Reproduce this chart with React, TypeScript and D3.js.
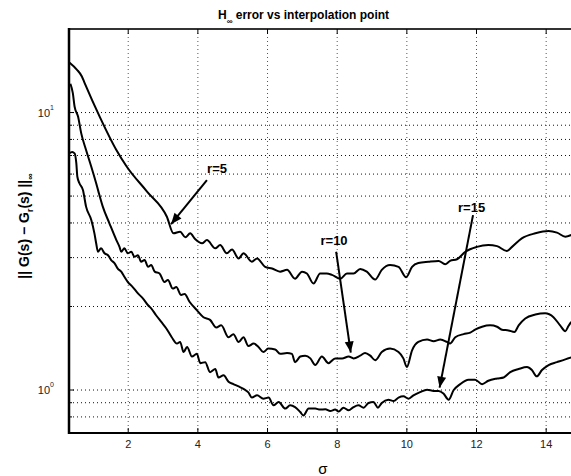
import React from "react";
import * as d3 from "d3";

// values (sigma, H-inf error)
const r5Data: [number, number][] = [
  [0.31, 15.15], [0.53, 14.26], [0.67, 13.49], [0.75, 12.77], [1.18, 9.67], [1.66, 7.33],
  [1.96, 6.38], [2.54, 5.19], [3.11, 4.21], [3.3, 3.67], [3.49, 3.72], [3.64, 3.55],
  [3.78, 3.67], [3.92, 3.5], [4.12, 3.38], [4.26, 3.47], [4.5, 3.24], [4.64, 3.33],
  [4.83, 3.11], [4.98, 3.21], [5.17, 2.98], [5.31, 3.11], [5.55, 2.9], [5.7, 2.98],
  [5.93, 2.78], [6.13, 2.74], [6.36, 2.67], [6.56, 2.71], [6.79, 2.52], [6.99, 2.67],
  [7.13, 2.63], [7.32, 2.42], [7.51, 2.63], [7.7, 2.63], [7.85, 2.6], [8.09, 2.52],
  [8.28, 2.63], [8.47, 2.63], [8.66, 2.73], [8.85, 2.67], [9.09, 2.5], [9.28, 2.71],
  [9.52, 2.82], [9.76, 2.78], [9.98, 2.55], [10.15, 2.78], [10.33, 2.87], [10.62, 2.9],
  [10.91, 2.92], [11.1, 2.84], [11.24, 2.92], [11.44, 2.96], [11.68, 3.15], [12.01, 3.28],
  [12.34, 3.33], [12.59, 3.3], [12.87, 3.17], [13.02, 3.28], [13.3, 3.52], [13.69, 3.67],
  [14.07, 3.74], [14.31, 3.69], [14.55, 3.57], [14.72, 3.62],
];

const r10Data: [number, number][] = [
  [0.34, 12.7], [0.41, 11.75], [0.46, 10.51], [0.56, 9.67], [0.65, 8.43], [0.79, 7.33],
  [0.94, 6.38], [1.08, 5.56], [1.14, 5.22], [1.27, 4.58], [1.46, 3.99], [1.66, 3.47],
  [1.75, 3.28], [1.8, 3.15], [1.89, 3.24], [1.99, 3.11], [2.09, 3.15], [2.18, 3.02],
  [2.28, 3.06], [2.37, 2.9], [2.47, 2.94], [2.57, 2.78], [2.66, 2.82], [2.76, 2.67],
  [2.9, 2.63], [3.04, 2.45], [3.14, 2.49], [3.28, 2.32], [3.38, 2.35], [3.52, 2.2],
  [3.62, 2.22], [3.76, 2.08], [3.97, 1.94], [4.16, 1.83], [4.35, 1.79], [4.53, 1.68],
  [4.67, 1.71], [4.88, 1.55], [5.02, 1.59], [5.17, 1.49], [5.31, 1.55], [5.45, 1.44],
  [5.6, 1.47], [5.74, 1.43], [5.88, 1.37], [6.02, 1.41], [6.22, 1.4], [6.36, 1.35],
  [6.56, 1.36], [6.7, 1.35], [6.79, 1.26], [6.94, 1.32], [7.08, 1.33], [7.23, 1.3],
  [7.37, 1.23], [7.56, 1.32], [7.75, 1.25], [7.94, 1.3], [8.14, 1.3], [8.33, 1.32],
  [8.47, 1.3], [8.66, 1.33], [8.8, 1.36], [8.95, 1.33], [9.09, 1.28], [9.28, 1.37],
  [9.52, 1.41], [9.76, 1.37], [9.9, 1.3], [10.0, 1.21], [10.15, 1.39], [10.33, 1.49],
  [10.58, 1.52], [10.77, 1.5], [10.96, 1.52], [11.15, 1.49], [11.24, 1.47], [11.39, 1.55],
  [11.63, 1.59], [11.82, 1.61], [11.96, 1.65], [12.16, 1.69], [12.39, 1.71], [12.59, 1.69],
  [12.73, 1.65], [12.92, 1.64], [13.09, 1.62], [13.21, 1.71], [13.4, 1.81], [13.69, 1.87],
  [13.97, 1.89], [14.21, 1.83], [14.4, 1.71], [14.55, 1.63], [14.64, 1.7], [14.72, 1.76],
];

const r15Data: [number, number][] = [
  [0.31, 7.13], [0.39, 7.21], [0.46, 7.13], [0.51, 6.57], [0.54, 5.87], [0.6, 5.56],
  [0.7, 5.26], [0.79, 4.58], [0.94, 4.1], [1.03, 3.67], [1.08, 3.38], [1.13, 3.15],
  [1.22, 3.24], [1.32, 3.11], [1.42, 3.06], [1.51, 2.94], [1.61, 2.86], [1.7, 2.74],
  [1.8, 2.67], [1.89, 2.56], [1.99, 2.45], [2.13, 2.35], [2.28, 2.23], [2.42, 2.14],
  [2.57, 2.02], [2.66, 1.97], [2.8, 1.86], [2.95, 1.76], [3.09, 1.67], [3.25, 1.55],
  [3.4, 1.47], [3.49, 1.49], [3.59, 1.37], [3.69, 1.43], [3.83, 1.32], [3.97, 1.35],
  [4.07, 1.25], [4.21, 1.26], [4.35, 1.16], [4.5, 1.19], [4.59, 1.11], [4.74, 1.13],
  [4.88, 1.07], [5.02, 1.05], [5.17, 1.03], [5.31, 1.01], [5.45, 0.98], [5.55, 0.94],
  [5.7, 0.957], [5.88, 0.931], [6.03, 0.939], [6.17, 0.881], [6.32, 0.905], [6.51, 0.857],
  [6.65, 0.881], [6.79, 0.868], [6.94, 0.833], [7.03, 0.81], [7.18, 0.857], [7.37, 0.857],
  [7.51, 0.85], [7.66, 0.852], [7.8, 0.84], [7.94, 0.85], [8.04, 0.836], [8.18, 0.864],
  [8.33, 0.845], [8.47, 0.868], [8.61, 0.881], [8.76, 0.864], [8.9, 0.898], [9.04, 0.905],
  [9.17, 0.864], [9.28, 0.898], [9.47, 0.923], [9.62, 0.913], [9.76, 0.939], [9.9, 0.949],
  [10.05, 0.931], [10.19, 0.957], [10.38, 0.983], [10.58, 1.003], [10.77, 0.992], [10.91, 0.992],
  [11.05, 0.971], [11.2, 0.923], [11.34, 0.998], [11.53, 1.05], [11.77, 1.09], [11.96, 1.09],
  [12.16, 1.05], [12.34, 1.08], [12.59, 1.1], [12.78, 1.11], [12.97, 1.16], [13.21, 1.19],
  [13.45, 1.21], [13.59, 1.18], [13.73, 1.12], [13.88, 1.18], [14.07, 1.23], [14.31, 1.26],
  [14.55, 1.29], [14.72, 1.31],
];

const xTicks = [2, 4, 6, 8, 10, 12, 14];
const yLabelTicks = [1, 10];

// label text, label anchor, arrow tail, arrow head (data units)
const notes = [
  { label: "r=5", tx: 4.55, ty: 6.06, x0: 4.26, y0: 5.71, x1: 3.23, y1: 3.96 },
  { label: "r=10", tx: 7.91, ty: 3.33, x0: 7.97, y0: 3.15, x1: 8.39, y1: 1.365 },
  { label: "r=15", tx: 11.86, ty: 4.39, x0: 11.9, y0: 4.27, x1: 10.94, y1: 1.02 },
];

const W = 571;
const H = 476;
const left = 69;
const top = 29;
const bottom = 433;
const font = "'Liberation Sans', Arial, Helvetica, sans-serif";

export default function App() {
  const x = d3.scaleLinear().domain([0.3, 15]).range([left, 581]);
  const y = d3.scaleLog().domain([0.7, 20]).range([bottom, top]);

  const line = d3
    .line<[number, number]>()
    .x((d) => x(d[0]))
    .y((d) => y(d[1]))
    .curve(d3.curveMonotoneX);

  const yGrid = y.ticks().filter((t) => t > 0.7 && t < 20);

  const arrowHead = (n: typeof notes[0]) => {
    const ax = x(n.x1), ay = y(n.y1);
    const dx = ax - x(n.x0), dy = ay - y(n.y0);
    const len = Math.sqrt(dx * dx + dy * dy);
    const ux = dx / len, uy = dy / len;
    const hl = 11, hw = 4.5;
    const bx = ax - ux * hl, by = ay - uy * hl;
    return `M${ax},${ay}L${bx - uy * hw},${by + ux * hw}L${bx + uy * hw},${by - ux * hw}Z`;
  };

  return (
    <svg
      width={W}
      height={H}
      style={{ position: "absolute", left: 0, top: 0, background: "#fff" }}
      fontFamily={font}
    >
      <rect width={W} height={H} fill="#fff" />

      {/* grid */}
      {yGrid.map((t) => (
        <line key={"gy" + t} x1={left} x2={W} y1={y(t)} y2={y(t)}
          stroke="#111" strokeWidth={1} strokeDasharray="1,3" />
      ))}
      {xTicks.map((t) => (
        <line key={"gx" + t} x1={x(t)} x2={x(t)} y1={top} y2={bottom}
          stroke="#555" strokeWidth={1} strokeDasharray="1,3" />
      ))}

      {/* frame */}
      <line x1={left} x2={W} y1={top} y2={top} stroke="#333" strokeWidth={2} />
      <line x1={left} x2={W} y1={bottom} y2={bottom} stroke="#000" strokeWidth={2} />
      <line x1={left} x2={left} y1={top - 1} y2={bottom + 1} stroke="#000" strokeWidth={2.5} />

      {/* ticks */}
      {xTicks.map((t) => (
        <g key={"tx" + t}>
          <line x1={x(t)} x2={x(t)} y1={bottom} y2={bottom - 5} stroke="#000" />
          <line x1={x(t)} x2={x(t)} y1={top} y2={top + 5} stroke="#000" />
          <text x={x(t)} y={448} textAnchor="middle" fontSize={11} fill="#222">{t}</text>
        </g>
      ))}
      {yGrid.map((t) => (
        <line key={"ty" + t} x1={left} x2={left + (yLabelTicks.includes(t) ? 5 : 3)}
          y1={y(t)} y2={y(t)} stroke="#000" />
      ))}
      {yLabelTicks.map((t) => (
        <text key={"ly" + t} x={54} y={y(t) + 4} textAnchor="end" fontSize={11} fill="#222">
          10
          <tspan dy={-7} fontSize={7}>{Math.round(Math.log10(t))}</tspan>
        </text>
      ))}

      {/* curves */}
      {[r5Data, r10Data, r15Data].map((d, i) => (
        <path key={"c" + i} d={line(d) || ""} fill="none" stroke="#000"
          strokeWidth={2} strokeLinejoin="round" />
      ))}

      {/* annotations */}
      {notes.map((n) => (
        <g key={n.label}>
          <line x1={x(n.x0)} y1={y(n.y0)} x2={x(n.x1)} y2={y(n.y1)} stroke="#000" strokeWidth={2} />
          <path d={arrowHead(n)} fill="#000" />
          <text x={x(n.tx)} y={y(n.ty)} textAnchor="middle" fontSize={13} fontWeight="bold">
            {n.label}
          </text>
        </g>
      ))}

      {/* title */}
      <text x={218} y={19} fontSize={12} fontWeight="bold">
        H<tspan dy={5} fontSize={8}>∞</tspan>
        <tspan dy={-5}> error vs interpolation point</tspan>
      </text>

      {/* y label */}
      <g transform="translate(29,226) rotate(-90)">
        <text textAnchor="middle" fontSize={14} fontWeight="bold">
          || G(s) − G<tspan dy={4} fontSize={9}>r</tspan>
          <tspan dy={-4}>(s) ||</tspan>
          <tspan dy={4} fontSize={9}>∞</tspan>
        </text>
      </g>

      {/* x label */}
      <text x={323} y={474} textAnchor="middle" fontSize={15}>σ</text>
    </svg>
  );
}
